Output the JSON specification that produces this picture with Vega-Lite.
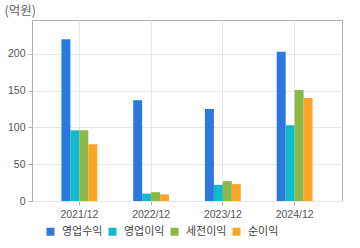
{
  "$schema": "https://vega.github.io/schema/vega-lite/v6.json",
  "width": 310,
  "height": 181,
  "autosize": "none",
  "padding": {"left": 32, "top": 20, "right": 18, "bottom": 47},
  "background": "white",
  "config": {
    "view": {"stroke": "#b0b0b0", "strokeWidth": 1},
    "font": "Liberation Sans"
  },
  "data": {
    "values": [
      {"year": "2021/12", "series": "영업수익", "value": 220},
      {"year": "2021/12", "series": "영업이익", "value": 96},
      {"year": "2021/12", "series": "세전이익", "value": 96},
      {"year": "2021/12", "series": "순이익", "value": 77},
      {"year": "2022/12", "series": "영업수익", "value": 137},
      {"year": "2022/12", "series": "영업이익", "value": 10},
      {"year": "2022/12", "series": "세전이익", "value": 12},
      {"year": "2022/12", "series": "순이익", "value": 9},
      {"year": "2023/12", "series": "영업수익", "value": 125},
      {"year": "2023/12", "series": "영업이익", "value": 22},
      {"year": "2023/12", "series": "세전이익", "value": 27},
      {"year": "2023/12", "series": "순이익", "value": 23},
      {"year": "2024/12", "series": "영업수익", "value": 203},
      {"year": "2024/12", "series": "영업이익", "value": 103},
      {"year": "2024/12", "series": "세전이익", "value": 151},
      {"year": "2024/12", "series": "순이익", "value": 140}
    ]
  },
  "mark": {"type": "bar"},
  "encoding": {
    "x": {
      "field": "year",
      "type": "nominal",
      "scale": {"paddingInner": 0.5, "paddingOuter": 0.41},
      "axis": {
        "title": null,
        "labelAngle": 0,
        "labelFontSize": 10.5,
        "labelColor": "#555",
        "labelPadding": 4,
        "grid": true,
        "gridColor": "#e8e8e8",
        "domain": false,
        "tickColor": "#b0b0b0",
        "tickSize": 4
      }
    },
    "xOffset": {
      "field": "series",
      "type": "nominal",
      "sort": ["영업수익", "영업이익", "세전이익", "순이익"],
      "scale": {"paddingInner": 0, "paddingOuter": 0}
    },
    "y": {
      "field": "value",
      "type": "quantitative",
      "scale": {"domain": [0, 246], "nice": false},
      "axis": {
        "values": [0, 50, 100, 150, 200],
        "title": "(억원)",
        "titleFont": "Noto Sans CJK KR",
        "titleAngle": 0,
        "titleAlign": "left",
        "titleBaseline": "middle",
        "titleX": -28,
        "titleY": -10,
        "titleFontSize": 12.5,
        "titleFontWeight": "normal",
        "titleColor": "#666",
        "labelFontSize": 10.5,
        "labelColor": "#555",
        "gridColor": "#e8e8e8",
        "domain": false,
        "tickColor": "#b0b0b0",
        "tickSize": 4,
        "labelPadding": 3
      }
    },
    "color": {
      "field": "series",
      "type": "nominal",
      "sort": ["영업수익", "영업이익", "세전이익", "순이익"],
      "scale": {
        "domain": ["영업수익", "영업이익", "세전이익", "순이익"],
        "range": ["#2b78e0", "#12b9cc", "#8cb84a", "#fda528"]
      },
      "legend": {
        "title": null,
        "orient": "none",
        "direction": "horizontal",
        "legendX": 13,
        "legendY": 206,
        "symbolType": "square",
        "symbolSize": 64,
        "symbolStrokeWidth": 0,
        "labelFont": "Noto Sans CJK KR",
        "labelFontSize": 11,
        "labelColor": "#444",
        "columnPadding": 4,
        "labelOffset": 6
      }
    }
  }
}
